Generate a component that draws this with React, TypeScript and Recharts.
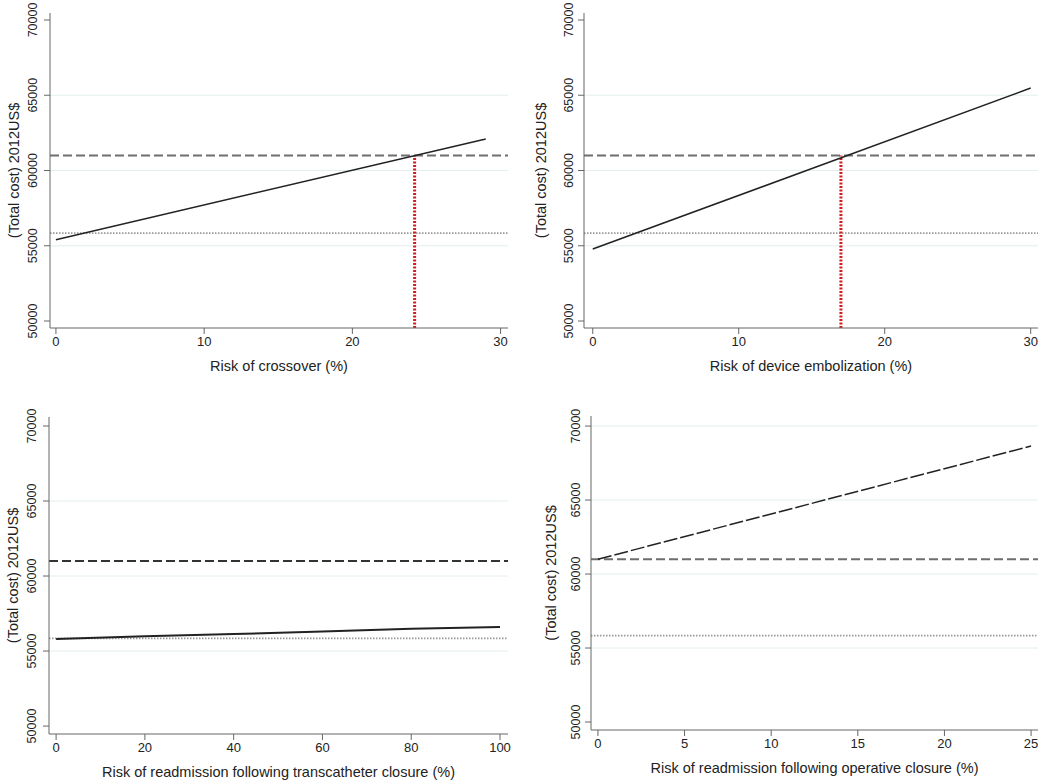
import { LineChart, Line, XAxis, YAxis, CartesianGrid, ReferenceLine } from 'recharts'

// one-way sensitivity analyses, total cost in 2012 US$
const crossoverRisk = [0, 29]
const crossoverCost = [55400, 62100]
const embolizationRisk = [0, 30]
const embolizationCost = [54780, 65480]
const transReadmitRisk = [0, 20, 40, 60, 80, 100]
const transReadmitCost = [55800, 55980, 56130, 56310, 56480, 56600]
const opReadmitRisk = [0, 25]
const opReadmitCost = [61000, 68650]

const operativeCost = 61000 // dashed line
const transcatheterCost = 55840 // dotted line
const crossoverThreshold = 24.2
const embolizationThreshold = 17

const costTicks = [50000, 55000, 60000, 65000, 70000]
const gridTop = [55000, 60000, 65000]
const gridBottomRight = [55000, 60000, 65000, 70000]
const ticks30 = [0, 10, 20, 30]
const ticks100 = [0, 20, 40, 60, 80, 100]
const ticks25 = [0, 5, 10, 15, 20, 25]

const FONT = '"Liberation Sans", Arial, Helvetica, sans-serif'
const AXIS = '#666666'

const toRows = (xs: number[], ys: number[]) => xs.map((x, i) => ({ x, cost: ys[i] }))

const YTick = (props: any) => {
  const { x, y, payload } = props
  return (
    <text transform={`translate(${x},${y}) rotate(-90)`} textAnchor="middle" fontSize={12.5} fill="#222" fontFamily={FONT}>
      {payload.value}
    </text>
  )
}

function Panel(p: any) {
  const yLabel = (lp: any) => {
    const vb = lp.viewBox
    const lx = vb.x + vb.width - p.labelGap
    const ly = vb.y + vb.height / 2
    return (
      <text transform={`translate(${lx},${ly}) rotate(-90)`} textAnchor="middle" fontSize={14.5} fill="#222" fontFamily={FONT}>
        (Total cost) 2012US$
      </text>
    )
  }
  const xLabel = (lp: any) => {
    const vb = lp.viewBox
    return (
      <text x={vb.x + vb.width / 2} y={vb.y + 43} textAnchor="middle" fontSize={14.5} fill="#222" fontFamily={FONT}>
        {p.xLabel}
      </text>
    )
  }
  return (
    <div style={{ position: 'absolute', left: p.left, top: p.top }}>
      <LineChart width={p.width} height={p.height} data={p.data} margin={p.margin}>
        <CartesianGrid horizontal vertical={false} horizontalValues={p.grid} stroke="#e3eeee" strokeWidth={1} />
        <XAxis
          dataKey="x"
          type="number"
          domain={p.xDomain}
          ticks={p.xTicks}
          allowDataOverflow
          height={40}
          stroke={AXIS}
          tickSize={6}
          tickMargin={3}
          tick={{ fontSize: 13, fill: '#222', fontFamily: FONT }}
          label={{ content: xLabel }}
        />
        <YAxis
          type="number"
          domain={p.yDomain}
          ticks={costTicks}
          allowDataOverflow
          width={p.yWidth}
          stroke={AXIS}
          tickSize={6}
          tickMargin={p.tickGap}
          tick={<YTick />}
          label={{ content: yLabel }}
        />
        <ReferenceLine y={operativeCost} stroke={p.dashColor} strokeWidth={2} strokeDasharray="9 4" />
        <ReferenceLine y={transcatheterCost} stroke="#999" strokeWidth={1.8} strokeDasharray="1.5 1.5" />
        {p.vline !== undefined && (
          <ReferenceLine
            segment={[{ x: p.vline, y: p.yDomain[0] }, { x: p.vline, y: operativeCost }]}
            stroke="#d41a1a"
            strokeWidth={3}
            strokeDasharray="2 1.5"
          />
        )}
        <Line
          type="linear"
          dataKey="cost"
          stroke="#222"
          strokeWidth={p.lineWidth}
          strokeDasharray={p.lineDash}
          dot={false}
          isAnimationActive={false}
        />
      </LineChart>
    </div>
  )
}

export default function App() {
  return (
    <div style={{ position: 'absolute', left: 0, top: 0, width: 1050, height: 781, background: '#fff' }}>
      <Panel
        left={0} top={0} width={520} height={390}
        margin={{ top: 13, right: 12, bottom: 22, left: 0 }}
        yWidth={50} tickGap={7} labelGap={31}
        xDomain={[-0.4, 30.5]} yDomain={[49535, 70465]} xTicks={ticks30}
        data={toRows(crossoverRisk, crossoverCost)} grid={gridTop}
        xLabel="Risk of crossover (%)" dashColor="#6e6e6e" vline={crossoverThreshold} lineWidth={1.5}
      />
      <Panel
        left={520} top={0} width={530} height={390}
        margin={{ top: 13, right: 12, bottom: 22, left: 0 }}
        yWidth={64} tickGap={5} labelGap={38}
        xDomain={[-0.6, 30.5]} yDomain={[49535, 70465]} xTicks={ticks30}
        data={toRows(embolizationRisk, embolizationCost)} grid={gridTop}
        xLabel="Risk of device embolization (%)" dashColor="#6e6e6e" vline={embolizationThreshold} lineWidth={1.5}
      />
      <Panel
        left={0} top={390} width={520} height={391}
        margin={{ top: 27, right: 12, bottom: 7, left: 0 }}
        yWidth={49} tickGap={7} labelGap={31}
        xDomain={[-1.6, 101.8]} yDomain={[49470, 70600]} xTicks={ticks100}
        data={toRows(transReadmitRisk, transReadmitCost)} grid={gridTop}
        xLabel="Risk of readmission following transcatheter closure (%)" dashColor="#333" lineWidth={2}
      />
      <Panel
        left={520} top={390} width={530} height={391}
        margin={{ top: 26, right: 12, bottom: 11, left: 0 }}
        yWidth={71} tickGap={5} labelGap={35}
        xDomain={[-0.4, 25.4]} yDomain={[49460, 70680]} xTicks={ticks25}
        data={toRows(opReadmitRisk, opReadmitCost)} grid={gridBottomRight}
        xLabel="Risk of readmission following operative closure (%)" dashColor="#6e6e6e" lineWidth={1.5} lineDash="14 3"
      />
    </div>
  )
}
